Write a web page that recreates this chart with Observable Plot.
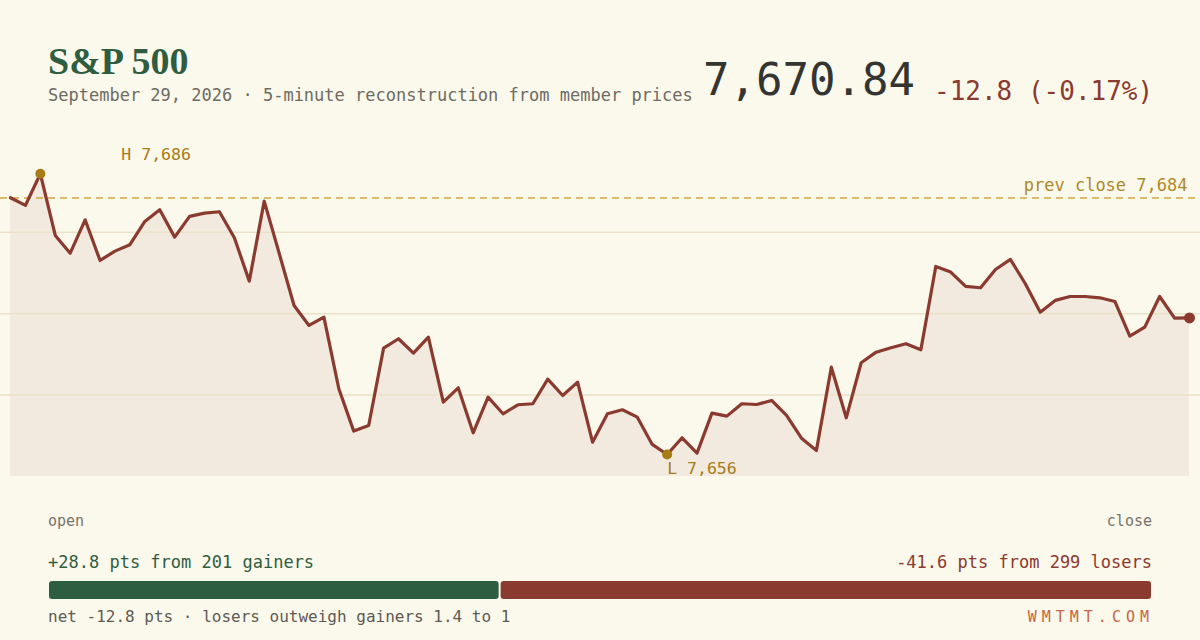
<!DOCTYPE html>
<html><head><meta charset="utf-8">
<script src="https://cdn.jsdelivr.net/npm/d3@7"></script>
<script src="https://cdn.jsdelivr.net/npm/@observablehq/plot@0.6"></script>
<style>
html,body{margin:0;padding:0;background:#fbf8ec;}
#page{position:relative;width:1200px;height:640px;overflow:hidden;background:#fbf8ec;}
#text{position:absolute;left:0;top:0;}
#chart{position:absolute;left:0;top:130px;}
#split{position:absolute;left:48px;top:581px;}
svg text{font-family:"DejaVu Sans Mono",monospace;}
</style></head><body>
<div id="page">
<svg id="text" width="1200" height="640">
  <text x="48" y="74" style="font-family:'Liberation Serif',serif;font-weight:bold;font-size:38px;fill:#2f5d3f">S&amp;P 500</text>
  <text x="48" y="101" style="font-size:17px;fill:#6e6b62">September 29, 2026 · 5-minute reconstruction from member prices</text>
  <text x="703" y="95" style="font-size:44px;fill:#343431">7,670.84</text>
  <text x="934" y="100" style="font-size:26px;fill:#8b3a2f">-12.8 (-0.17%)</text>
  <text x="48" y="526" style="font-size:15px;fill:#77746a">open</text>
  <text x="1152" y="526" text-anchor="end" style="font-size:15px;fill:#77746a">close</text>
  <text x="48" y="568" style="font-size:17px;fill:#2f5d3f">+28.8 pts from 201 gainers</text>
  <text x="1152" y="568" text-anchor="end" style="font-size:17px;fill:#8b3a2f">-41.6 pts from 299 losers</text>
  <text x="48" y="622" style="font-size:16px;fill:#5e5b54">net -12.8 pts · losers outweigh gainers 1.4 to 1</text>
  <text x="1154" y="622" text-anchor="end" style="font-size:15px;fill:#c8653f;letter-spacing:5px">WMTMT.COM</text>
</svg>
<div id="chart"></div>
<div id="split"></div>
</div>
<script>
// intraday 5-minute values (index 0 = open, 79 = close)
const values = [7683.66, 7682.84, 7686.22, 7679.64, 7677.75, 7681.31, 7676.97, 7677.97, 7678.65, 7681.13,
  7682.38, 7679.46, 7681.67, 7682.02, 7682.17, 7679.39, 7674.77, 7683.30, 7677.75, 7672.17,
  7670.04, 7670.93, 7663.29, 7658.77, 7659.37, 7667.62, 7668.62, 7667.09, 7668.79, 7661.86,
  7663.39, 7658.59, 7662.39, 7660.62, 7661.58, 7661.69, 7664.31, 7662.57, 7663.99, 7657.59,
  7660.62, 7661.05, 7660.26, 7657.35, 7656.28, 7658.06, 7656.42, 7660.69, 7660.37, 7661.69,
  7661.61, 7662.04, 7660.44, 7658.02, 7656.71, 7665.59, 7660.19, 7666.06, 7667.19, 7667.66,
  7668.09, 7667.45, 7676.33, 7675.73, 7674.20, 7674.06, 7676.01, 7677.08, 7674.49, 7671.46,
  7672.71, 7673.13, 7673.13, 7672.99, 7672.60, 7668.90, 7669.86, 7673.13, 7670.82, 7670.84];
const yDomain = [7653.93, 7688.70];
const gridValues = [7662.62, 7671.30, 7679.98];
const prevClose = [7683.64];
const prevCloseLabel = ["prev close 7,684"];
const highLabel = "H 7,686";
const lowLabel = "L 7,656";
// gainers / losers split
const splitSides = ["gainers", "losers"];
const splitPts = [28.8, 41.6];
const splitColors = ["#2e5e41", "#8b3a2f"];

const data = values.map((v, i) => ({i, v}));
const hiIdx = d3.maxIndex(values), loIdx = d3.minIndex(values);
const hi = [data[hiIdx]], lo = [data[loIdx]], last = [data[data.length - 1]];
const mono = "DejaVu Sans Mono";

const chart = Plot.plot({
  width: 1200, height: 360,
  marginTop: 20, marginBottom: 14, marginLeft: 10, marginRight: 11,
  x: {domain: [0, values.length - 1], axis: null},
  y: {domain: yDomain, axis: null},
  style: {background: "transparent", fontFamily: mono, overflow: "visible"},
  marks: [
    Plot.areaY(data, {x: "i", y1: yDomain[0], y2: "v", fill: "#f2eadf"}),
    Plot.ruleY(gridValues, {stroke: "#ebe1c9", strokeWidth: 1.5, insetLeft: -10, insetRight: -11}),
    Plot.ruleY(prevClose, {stroke: "#d1a640", strokeWidth: 1.5, strokeDasharray: "7,5", insetLeft: -10, insetRight: -11}),
    Plot.text(prevClose, {x: values.length - 1, y: d => d, text: (d, k) => prevCloseLabel[k], textAnchor: "end", dx: -2, dy: -12, fill: "#ad8a2a", fontSize: 17, fontFamily: mono}),
    Plot.line(data, {x: "i", y: "v", stroke: "#8b3a2f", strokeWidth: 3.2, strokeLinejoin: "round"}),
    Plot.dot(hi, {x: "i", y: "v", r: 5, fill: "#a67c16"}),
    Plot.dot(lo, {x: "i", y: "v", r: 5, fill: "#a67c16"}),
    Plot.text(hi, {x: "i", y: "v", text: () => highLabel, textAnchor: "start", dx: 81, dy: -19, fill: "#a67c16", fontSize: 16.5, fontFamily: mono}),
    Plot.text(lo, {x: "i", y: "v", text: () => lowLabel, textAnchor: "start", dx: 0, dy: 14, fill: "#a67c16", fontSize: 16.5, fontFamily: mono}),
    Plot.dot(last, {x: "i", y: "v", r: 5.5, fill: "#8b3a2f"})
  ]
});
document.getElementById("chart").appendChild(chart);

const splitData = splitSides.map((s, k) => ({side: s, pts: splitPts[k]}));
const split = Plot.plot({
  width: 1104, height: 18, margin: 0,
  x: {domain: [0, d3.sum(splitPts)], axis: null},
  color: {domain: splitSides, range: splitColors},
  style: {background: "transparent"},
  marks: [
    Plot.barX(splitData, {x: "pts", fill: "side", rx: 3, insetLeft: 1, insetRight: 1})
  ]
});
document.getElementById("split").appendChild(split);
</script>
</body></html>
